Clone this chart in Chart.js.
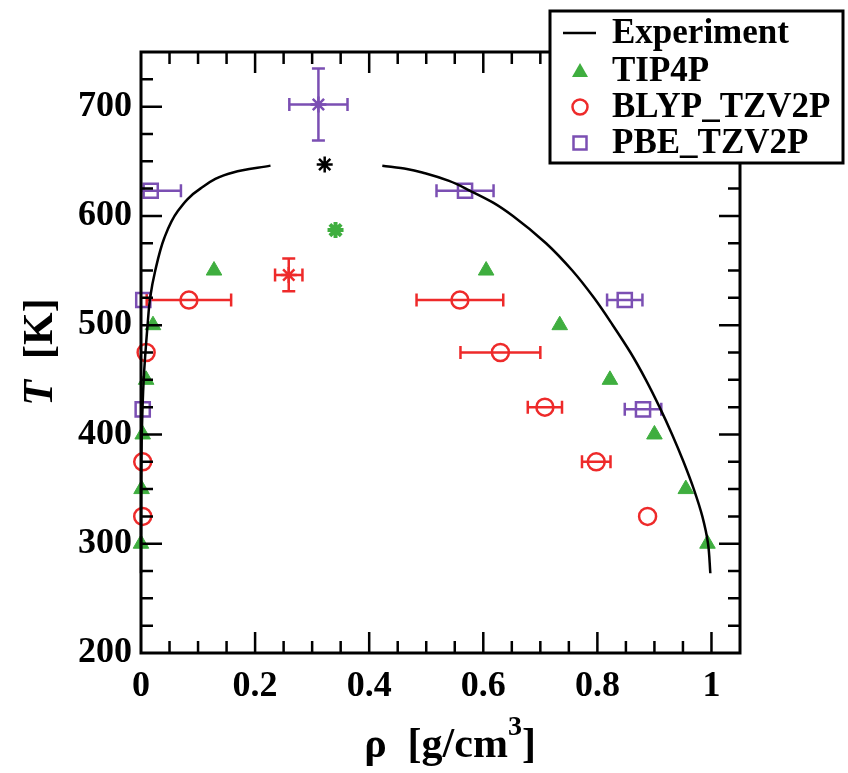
<!DOCTYPE html>
<html>
<head>
<meta charset="utf-8">
<script src="https://cdn.jsdelivr.net/npm/chart.js@4.4.1/dist/chart.umd.min.js"></script>
<style>
  html, body { margin: 0; padding: 0; background: #fff; }
  #wrap { width: 848px; height: 773px; }
</style>
</head>
<body>
<div id="wrap"><canvas id="c" width="848" height="773"></canvas></div>
<script>
// ---------- Data ----------
// Experimental coexistence curve, liquid branch
const expLiqT   = [273, 300, 325, 350, 375, 400, 425, 450, 475, 500, 525, 550, 575, 600, 612, 623, 632, 639, 643, 646];
const expLiqRho = [0.998, 0.994, 0.984, 0.969, 0.951, 0.931, 0.909, 0.885, 0.858, 0.827, 0.794, 0.756, 0.710, 0.652, 0.618, 0.577, 0.540, 0.498, 0.466, 0.423];
// Experimental coexistence curve, vapour branch
const expVapT   = [273, 300, 350, 400, 450, 500, 525, 550, 580, 604, 625, 640, 646];
const expVapRho = [0.000005, 0.00003, 0.0003, 0.0014, 0.0047, 0.0115, 0.016, 0.025, 0.041, 0.064, 0.104, 0.163, 0.227];

// TIP4P
const tip4pRho = [0.000, 0.001, 0.003, 0.009, 0.021, 0.128, 0.605, 0.734, 0.822, 0.900, 0.955, 0.993];
const tip4pT   = [300, 350, 400, 450, 500, 550, 550, 500, 450, 400, 350, 300];

// BLYP_TZV2P
const blypRho    = [0.003, 0.003, 0.009, 0.084, 0.559, 0.630, 0.708, 0.798, 0.888];
const blypT      = [325, 375, 475, 523, 523, 475, 425, 375, 325];
const blypRhoErr = [0, 0, 0, 0.074, 0.076, 0.070, 0.030, 0.025, 0];

// PBE_TZV2P
const pbeRho    = [0.003, 0.004, 0.017, 0.568, 0.848, 0.880];
const pbeT      = [423, 523, 623, 623, 523, 423];
const pbeRhoErr = [0, 0, 0.053, 0.050, 0.031, 0.032];

// Critical points  [experiment, TIP4P, BLYP, PBE]
const critRho    = [0.322, 0.341, 0.259, 0.311];
const critT      = [647, 587, 546, 702];
const critRhoErr = [0, 0, 0.024, 0.051];
const critTErr   = [0, 0, 15, 33];

// Axis ticks
const xTickVals = [0, 0.2, 0.4, 0.6, 0.8, 1];
const yTickVals = [200, 300, 400, 500, 600, 700];

// ---------- Styles ----------
const GREEN = '#3fae3f';
const RED = '#ee2a2a';
const PURPLE = '#7b4fb3';
const FONT = "'Liberation Serif', 'Times New Roman', serif";

const pts = (xs, ys) => xs.map((x, i) => ({ x: x, y: ys[i] }));

const datasets = [
  { label: 'Experiment', data: pts(expLiqRho, expLiqT), showLine: true, borderColor: '#000', borderWidth: 2.5,
    pointRadius: 0, indexAxis: 'y', cubicInterpolationMode: 'monotone', fill: false, clip: false },
  { label: 'ExpVap', data: pts(expVapRho, expVapT), showLine: true, borderColor: '#000', borderWidth: 2.5,
    pointRadius: 0, indexAxis: 'y', cubicInterpolationMode: 'monotone', fill: false, clip: false },
  { label: 'TIP4P', data: pts(tip4pRho, tip4pT), pointStyle: 'triangle', pointRadius: 9,
    backgroundColor: GREEN, borderColor: GREEN, borderWidth: 1, clip: false },
  { label: 'BLYP_TZV2P', data: pts(blypRho, blypT), pointStyle: 'circle', pointRadius: 8.5,
    backgroundColor: 'rgba(0,0,0,0)', borderColor: RED, borderWidth: 2.5, clip: false,
    xErr: blypRhoErr },
  { label: 'PBE_TZV2P', data: pts(pbeRho, pbeT), pointStyle: 'rect', pointRadius: 10,
    backgroundColor: 'rgba(0,0,0,0)', borderColor: PURPLE, borderWidth: 2.5, clip: false,
    xErr: pbeRhoErr },
  { label: 'Critical', data: pts(critRho, critT), pointStyle: 'star', pointRadius: 8,
    backgroundColor: ['#000', GREEN, RED, PURPLE], borderColor: ['#000', GREEN, RED, PURPLE],
    borderWidth: [2.5, 4, 2.5, 2.5], clip: false,
    xErr: critRhoErr, yErr: critTErr }
];

// ---------- Plugins ----------
const errorBars = {
  id: 'errorBars',
  beforeDatasetsDraw(chart) {
    const ctx = chart.ctx, xs = chart.scales.x, ys = chart.scales.y;
    ctx.save();
    ctx.lineWidth = 2.5;
    chart.data.datasets.forEach((ds) => {
      if (!ds.xErr && !ds.yErr) return;
      ds.data.forEach((p, i) => {
        const col = Array.isArray(ds.borderColor) ? ds.borderColor[i] : ds.borderColor;
        ctx.strokeStyle = col;
        const px = xs.getPixelForValue(p.x), py = ys.getPixelForValue(p.y);
        const cap = 6.5;
        if (ds.xErr && ds.xErr[i] > 0) {
          const x1 = xs.getPixelForValue(Math.max(p.x - ds.xErr[i], 0));
          const x2 = xs.getPixelForValue(p.x + ds.xErr[i]);
          ctx.beginPath();
          ctx.moveTo(x1, py); ctx.lineTo(x2, py);
          if (p.x - ds.xErr[i] > 0) { ctx.moveTo(x1, py - cap); ctx.lineTo(x1, py + cap); }
          ctx.moveTo(x2, py - cap); ctx.lineTo(x2, py + cap);
          ctx.stroke();
        }
        if (ds.yErr && ds.yErr[i] > 0) {
          const y1 = ys.getPixelForValue(p.y - ds.yErr[i]);
          const y2 = ys.getPixelForValue(p.y + ds.yErr[i]);
          ctx.beginPath();
          ctx.moveTo(px, y1); ctx.lineTo(px, y2);
          ctx.moveTo(px - cap, y1); ctx.lineTo(px + cap, y1);
          ctx.moveTo(px - cap, y2); ctx.lineTo(px + cap, y2);
          ctx.stroke();
        }
      });
    });
    ctx.restore();
  }
};

const frameAndTicks = {
  id: 'frameAndTicks',
  afterDraw(chart) {
    const ctx = chart.ctx, a = chart.chartArea, xs = chart.scales.x, ys = chart.scales.y;
    ctx.save();
    ctx.strokeStyle = '#000';
    // inward ticks
    ctx.lineWidth = 2.5;
    ctx.beginPath();
    for (let k = 1; k <= 20; k++) {
      const v = k * 0.05;
      const major = (k % 4 === 0);
      const len = major ? 21 : 12;
      const px = xs.getPixelForValue(v);
      ctx.moveTo(px, a.bottom); ctx.lineTo(px, a.bottom - len);
      ctx.moveTo(px, a.top); ctx.lineTo(px, a.top + len);
    }
    for (let k = 1; k <= 21; k++) {
      const v = 200 + k * 25;
      const major = (k % 4 === 0);
      const len = major ? 21 : 12;
      const py = ys.getPixelForValue(v);
      ctx.moveTo(a.left, py); ctx.lineTo(a.left + len, py);
      ctx.moveTo(a.right, py); ctx.lineTo(a.right - len, py);
    }
    ctx.stroke();
    // frame
    ctx.lineWidth = 3;
    ctx.strokeRect(a.left, a.top, a.right - a.left, a.bottom - a.top);

    // axis titles
    ctx.fillStyle = '#000';
    ctx.textBaseline = 'alphabetic';
    // x title: ρ  [g/cm³]
    const xt1 = 'ρ  [g/cm', xt2 = '3', xt3 = ']';
    ctx.font = 'bold 42px ' + FONT;
    const w1 = ctx.measureText(xt1).width;
    const w3 = ctx.measureText(xt3).width;
    ctx.font = 'bold 28px ' + FONT;
    const w2 = ctx.measureText(xt2).width;
    const total = w1 + w2 + w3;
    let sx = 450 - total / 2;
    const base = 757;
    ctx.font = 'bold 42px ' + FONT;
    ctx.textAlign = 'left';
    ctx.fillText(xt1, sx, base);
    ctx.font = 'bold 28px ' + FONT;
    ctx.fillText(xt2, sx + w1, base - 22);
    ctx.font = 'bold 42px ' + FONT;
    ctx.fillText(xt3, sx + w1 + w2, base);

    // y title: T  [K]
    ctx.save();
    ctx.translate(52, 352);
    ctx.rotate(-Math.PI / 2);
    ctx.font = 'italic bold 42px ' + FONT;
    const tw = ctx.measureText('T').width;
    ctx.font = 'bold 42px ' + FONT;
    const kw = ctx.measureText('  [K]').width;
    let yx = -(tw + kw) / 2;
    ctx.font = 'italic bold 42px ' + FONT;
    ctx.fillText('T', yx, 0);
    ctx.font = 'bold 42px ' + FONT;
    ctx.fillText('  [K]', yx + tw, 0);
    ctx.restore();

    // legend
    const L = { x: 550, y: 11, w: 293, h: 152 };
    ctx.fillStyle = '#fff';
    ctx.fillRect(L.x, L.y, L.w, L.h);
    ctx.lineWidth = 3;
    ctx.strokeStyle = '#000';
    ctx.strokeRect(L.x, L.y, L.w, L.h);
    const rows = [33, 71, 107, 143];
    const names = ['Experiment', 'TIP4P', 'BLYP_TZV2P', 'PBE_TZV2P'];
    const sxm = 580;
    // line
    ctx.lineWidth = 2.5;
    ctx.beginPath(); ctx.moveTo(563, rows[0]); ctx.lineTo(596, rows[0]); ctx.stroke();
    // triangle
    ctx.fillStyle = GREEN;
    ctx.beginPath();
    ctx.moveTo(sxm, rows[1] - 8); ctx.lineTo(sxm + 8, rows[1] + 6); ctx.lineTo(sxm - 8, rows[1] + 6); ctx.closePath(); ctx.fill();
    // circle
    ctx.strokeStyle = RED; ctx.lineWidth = 2.5;
    ctx.beginPath(); ctx.arc(sxm, rows[2], 7.5, 0, Math.PI * 2); ctx.stroke();
    // square
    ctx.strokeStyle = PURPLE;
    ctx.strokeRect(sxm - 6.5, rows[3] - 6.5, 13, 13);
    // text
    ctx.fillStyle = '#000';
    ctx.font = 'bold 35px ' + FONT;
    ctx.textAlign = 'left';
    ctx.textBaseline = 'middle';
    names.forEach((n, i) => ctx.fillText(n, 612, rows[i] + 1));
    ctx.restore();
  }
};

// ---------- Chart ----------
const tickFont = { family: FONT, size: 36, weight: 'bold' };

new Chart(document.getElementById('c'), {
  type: 'scatter',
  data: { datasets: datasets },
  options: {
    responsive: false,
    animation: false,
    layout: { padding: { left: 0, top: 52, right: 108, bottom: 0 } },
    plugins: { legend: { display: false }, tooltip: { enabled: false } },
    scales: {
      x: {
        type: 'linear', min: 0, max: 1.05, position: 'bottom',
        grid: { display: false, drawTicks: false },
        border: { display: false },
        ticks: { color: '#000', font: tickFont, padding: 12,
                 callback: (v) => String(Math.round(v * 10) / 10) },
        afterBuildTicks: (s) => { s.ticks = xTickVals.map(v => ({ value: v })); },
        afterFit: (s) => { s.height = 120; }
      },
      y: {
        type: 'linear', min: 200, max: 750, position: 'left',
        grid: { display: false, drawTicks: false },
        border: { display: false },
        ticks: { color: '#000', font: tickFont, padding: 9,
                 callback: (v) => String(v) },
        afterBuildTicks: (s) => { s.ticks = yTickVals.map(v => ({ value: v })); },
        afterFit: (s) => { s.width = 141; }
      }
    }
  },
  plugins: [errorBars, frameAndTicks]
});
</script>
</body>
</html>
